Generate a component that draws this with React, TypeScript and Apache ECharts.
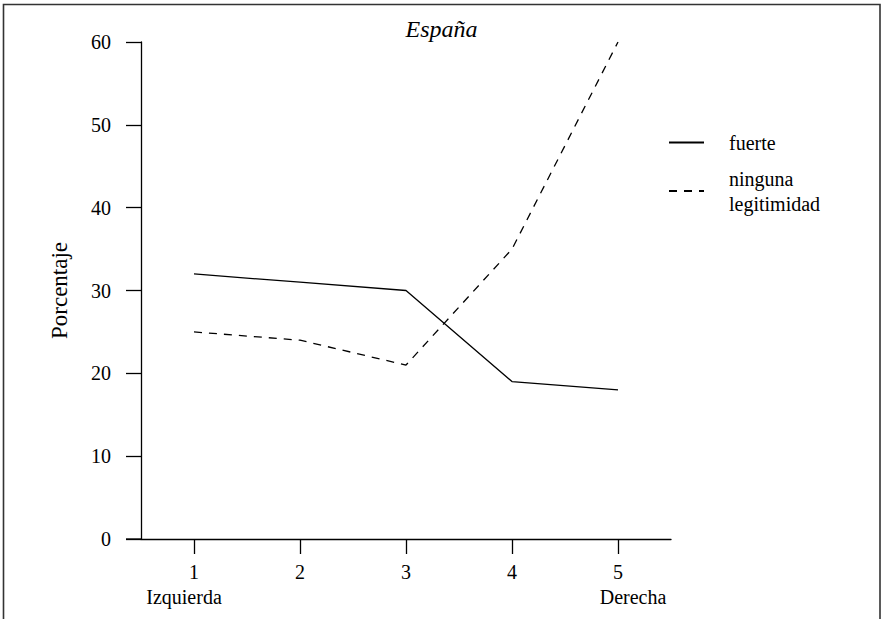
import React, { useEffect, useRef } from "react";
import * as echarts from "echarts";

const categories = ["1", "2", "3", "4", "5"];
const subLabels = ["Izquierda", "", "", "", "Derecha"];
const fuerte = [32, 31, 30, 19, 18];
const ninguna = [25, 24, 21, 35, 60];
const yTicks = { min: 0, max: 60, interval: 10 };
const seriesNames = ["fuerte", "ninguna\nlegitimidad"];

const FONT = "Liberation Serif";
const NB = "\u00A0";

export default function App() {
  const ref = useRef<HTMLDivElement>(null);
  useEffect(() => {
    if (!ref.current) return;
    const chart = echarts.init(ref.current, null, { renderer: "svg" });
    chart.setOption({
      animation: false,
      backgroundColor: "#fff",
      textStyle: { fontFamily: FONT, color: "#000" },
      title: {
        text: "España",
        left: "center",
        top: 12,
        textStyle: { fontFamily: FONT, fontStyle: "italic", fontWeight: "normal", fontSize: 24, color: "#000" },
      },
      grid: { left: 141, right: 212, top: 42, bottom: 80 },
      legend: {
        orient: "vertical",
        left: 668,
        top: 130,
        padding: 0,
        itemWidth: 35,
        itemHeight: 14,
        itemGap: 11,
        data: seriesNames,
        itemStyle: { opacity: 0, color: "transparent", borderWidth: 0 },
        formatter: (name: string) =>
          name
            .split("\n")
            .map((l) => NB.repeat(4) + l)
            .join("\n"),
        textStyle: { fontFamily: FONT, fontSize: 20, color: "#000", lineHeight: 25 },
      },
      xAxis: {
        type: "category",
        data: categories,
        boundaryGap: true,
        axisLine: { lineStyle: { color: "#000", width: 1.3 } },
        axisTick: { show: true, interval: 0, alignWithLabel: true, length: 15, lineStyle: { color: "#000", width: 1.3 } },
        axisLabel: {
          interval: 0,
          margin: 20,
          color: "#000",
          fontFamily: FONT,
          fontSize: 20,
          lineHeight: 25,
          formatter: (v: string, i: number) => {
            const s = subLabels[i];
            if (!s) return v;
            return v + "\n" + (i === 0 ? s + NB.repeat(4) : NB.repeat(6) + s);
          },
        },
        splitLine: { show: false },
      },
      yAxis: {
        type: "value",
        min: yTicks.min,
        max: yTicks.max,
        interval: yTicks.interval,
        name: "Porcentaje",
        nameLocation: "middle",
        nameGap: 70,
        nameTextStyle: { fontFamily: FONT, fontSize: 23, color: "#000" },
        axisLine: { show: true, lineStyle: { color: "#000", width: 1.3 } },
        axisTick: { show: true, length: 15, lineStyle: { color: "#000", width: 1.3 } },
        axisLabel: { margin: 30, color: "#000", fontFamily: FONT, fontSize: 20 },
        splitLine: { show: false },
      },
      graphic: [
        {
          type: "rect",
          shape: { x: 3.5, y: 4.5, width: 876.5, height: 640 },
          style: { fill: "none", stroke: "#333", lineWidth: 1.6 },
          silent: true,
        },
        {
          type: "line",
          shape: { x1: 126, y1: 539, x2: 141, y2: 539 },
          style: { stroke: "#000", lineWidth: 1.3 },
          silent: true,
        },
      ],
      series: [
        {
          name: seriesNames[0],
          type: "line",
          data: fuerte,
          symbol: "none",
          lineStyle: { color: "#000", width: 1.3, type: "solid" },
          itemStyle: { color: "#000" },
        },
        {
          name: seriesNames[1],
          type: "line",
          data: ninguna,
          symbol: "none",
          lineStyle: { color: "#000", width: 1.3, type: [8, 7] },
          itemStyle: { color: "#000" },
        },
      ],
    });
    return () => chart.dispose();
  }, []);
  return (
    <div
      ref={ref}
      style={{ position: "absolute", left: 0, top: 0, width: 883, height: 619 }}
    />
  );
}
